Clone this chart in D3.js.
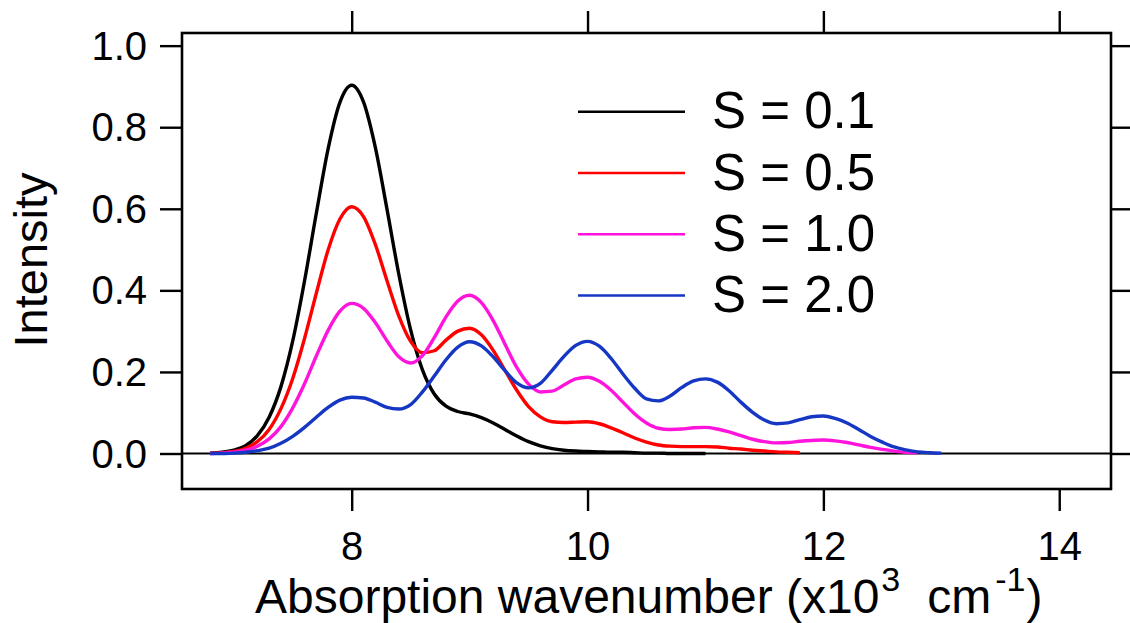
<!DOCTYPE html>
<html>
<head>
<meta charset="utf-8">
<script src="https://cdn.jsdelivr.net/npm/d3@7"></script>
<style>
  html, body { margin: 0; padding: 0; background: #fff; }
  svg { display: block; font-family: "Liberation Sans", Arial, Helvetica, sans-serif; }
</style>
</head>
<body>
<div id="chart"></div>
<script>
// wavenumber grid (x10^3 cm^-1), 0.1 steps
const wavenumbers = d3.range(68, 131).map((k) => k / 10);

// intensities, starting at 6.8
const s01 = [0.001, 0.003, 0.008, 0.019, 0.044, 0.089, 0.164, 0.276, 0.423, 0.589,
  0.747, 0.861, 0.903, 0.862, 0.751, 0.598, 0.439, 0.303, 0.205, 0.146,
  0.116, 0.103, 0.097, 0.088, 0.075, 0.059, 0.043, 0.029, 0.019, 0.012,
  0.008, 0.006, 0.005, 0.004, 0.003, 0.003, 0.002, 0.001, 0.001, 0.000,
  0.000, 0.000, 0.000];
const s05 = [0.001, 0.002, 0.005, 0.013, 0.029, 0.059, 0.110, 0.184, 0.282, 0.393,
  0.499, 0.575, 0.605, 0.581, 0.513, 0.423, 0.337, 0.275, 0.247, 0.252,
  0.278, 0.300, 0.307, 0.291, 0.253, 0.204, 0.155, 0.115, 0.090, 0.078,
  0.076, 0.077, 0.078, 0.073, 0.063, 0.051, 0.038, 0.028, 0.021, 0.018,
  0.017, 0.017, 0.017, 0.016, 0.013, 0.011, 0.008, 0.006, 0.004, 0.003,
  0.002];
const s10 = [0.000, 0.001, 0.003, 0.008, 0.018, 0.036, 0.066, 0.112, 0.171, 0.239,
  0.302, 0.349, 0.368, 0.356, 0.321, 0.276, 0.237, 0.222, 0.240, 0.284,
  0.335, 0.374, 0.388, 0.370, 0.326, 0.268, 0.211, 0.170, 0.151, 0.153,
  0.168, 0.183, 0.187, 0.177, 0.155, 0.126, 0.097, 0.075, 0.062, 0.059,
  0.060, 0.063, 0.064, 0.060, 0.053, 0.044, 0.035, 0.029, 0.026, 0.027,
  0.030, 0.032, 0.033, 0.031, 0.027, 0.021, 0.015, 0.010, 0.006, 0.003,
  0.002];
const s20 = [0.000, 0.000, 0.001, 0.003, 0.007, 0.013, 0.025, 0.042, 0.064, 0.089,
  0.113, 0.131, 0.138, 0.136, 0.126, 0.113, 0.109, 0.120, 0.151, 0.190,
  0.230, 0.261, 0.274, 0.264, 0.237, 0.203, 0.173, 0.161, 0.172, 0.204,
  0.238, 0.265, 0.275, 0.263, 0.233, 0.195, 0.160, 0.134, 0.129, 0.141,
  0.162, 0.178, 0.183, 0.175, 0.154, 0.126, 0.101, 0.082, 0.073, 0.075,
  0.083, 0.090, 0.092, 0.086, 0.075, 0.059, 0.042, 0.028, 0.016, 0.009,
  0.004, 0.002, 0.001];

const seriesNames = ['S = 0.1', 'S = 0.5', 'S = 1.0', 'S = 2.0'];
const seriesValues = [s01, s05, s10, s20];
const seriesColors = ['#000000', '#ff0000', '#ff14dc', '#1636c4'];

const xTicks = [8, 10, 12, 14];
const yTicks = [0, 0.2, 0.4, 0.6, 0.8, 1.0];

const width = 1130;
const height = 623;
const margin = { top: 33, right: 19, bottom: 134, left: 182 };
const innerWidth = width - margin.left - margin.right;
const innerHeight = height - margin.top - margin.bottom;

const svg = d3.select('#chart')
  .append('svg')
  .attr('width', width)
  .attr('height', height);

const chart = svg.append('g')
  .attr('transform', `translate(${margin.left},${margin.top})`);

const x = d3.scaleLinear().domain([6.561, 14.439]).range([0, innerWidth]);
const y = d3.scaleLinear().domain([-0.087, 1.031]).range([innerHeight, 0]);

function styleAxis(g) {
  g.select('.domain').remove();
  g.selectAll('.tick line').attr('stroke', '#000').attr('stroke-width', 2.4);
  g.selectAll('.tick text').attr('fill', '#000').attr('font-size', 40);
}

function dropLabels(g) {
  g.selectAll('.tick text').remove();
}

chart.append('g')
  .call(d3.axisLeft(y).tickValues(yTicks).tickSize(22).tickPadding(13).tickFormat(d3.format('.1f')))
  .call(styleAxis)
  .selectAll('.tick text').attr('dy', '0.34em');

// mirrored axes: ticks only
chart.append('g')
  .attr('transform', `translate(${innerWidth},0)`)
  .call(d3.axisRight(y).tickValues(yTicks).tickSize(22))
  .call(styleAxis)
  .call(dropLabels);

chart.append('g')
  .attr('transform', `translate(0,${innerHeight})`)
  .call(d3.axisBottom(x).tickValues(xTicks).tickSize(22).tickPadding(21).tickFormat(d3.format('d')))
  .call(styleAxis);

chart.append('g')
  .call(d3.axisTop(x).tickValues(xTicks).tickSize(22))
  .call(styleAxis)
  .call(dropLabels);

// zero line
chart.append('line')
  .attr('x1', 0)
  .attr('x2', innerWidth)
  .attr('y1', y(0))
  .attr('y2', y(0))
  .attr('stroke', '#000')
  .attr('stroke-width', 2);

const line = d3.line()
  .x((d) => x(d[0]))
  .y((d) => y(d[1]))
  .curve(d3.curveMonotoneX);

seriesValues.forEach((values, i) => {
  const points = values.map((v, k) => [wavenumbers[k], v]);
  chart.append('path')
    .datum(points)
    .attr('fill', 'none')
    .attr('stroke', seriesColors[i])
    .attr('stroke-width', 3.4)
    .attr('stroke-linejoin', 'round')
    .attr('d', line);
});

// frame
chart.append('rect')
  .attr('x', 0)
  .attr('y', 0)
  .attr('width', innerWidth)
  .attr('height', innerHeight)
  .attr('fill', 'none')
  .attr('stroke', '#000')
  .attr('stroke-width', 2.6);

// legend
const legend = svg.append('g').attr('transform', 'translate(578,111.7)');
seriesNames.forEach((name, i) => {
  const row = legend.append('g').attr('transform', `translate(0,${i * 61.3})`);
  row.append('line')
    .attr('x1', 0)
    .attr('x2', 107)
    .attr('stroke', seriesColors[i])
    .attr('stroke-width', 2.5);
  row.append('text')
    .attr('x', 134)
    .attr('y', 16.6)
    .attr('font-size', 51)
    .attr('fill', '#000')
    .text(name);
});

// axis titles
const xTitle = svg.append('text')
  .attr('x', 255)
  .attr('y', 613)
  .attr('font-size', 48)
  .attr('fill', '#000');
xTitle.append('tspan').text('Absorption wavenumber (x10');
xTitle.append('tspan').attr('font-size', 34).attr('dy', -22).attr('dx', 2).text('3');
xTitle.append('tspan').attr('dy', 22).attr('dx', 27).text('cm');
xTitle.append('tspan').attr('font-size', 34).attr('dy', -22).attr('dx', 4).text('-1');
xTitle.append('tspan').attr('dy', 22).attr('dx', 1).text(')');

svg.append('text')
  .attr('transform', 'translate(47,260) rotate(-90)')
  .attr('text-anchor', 'middle')
  .attr('font-size', 47)
  .attr('fill', '#000')
  .text('Intensity');
</script>
</body>
</html>
